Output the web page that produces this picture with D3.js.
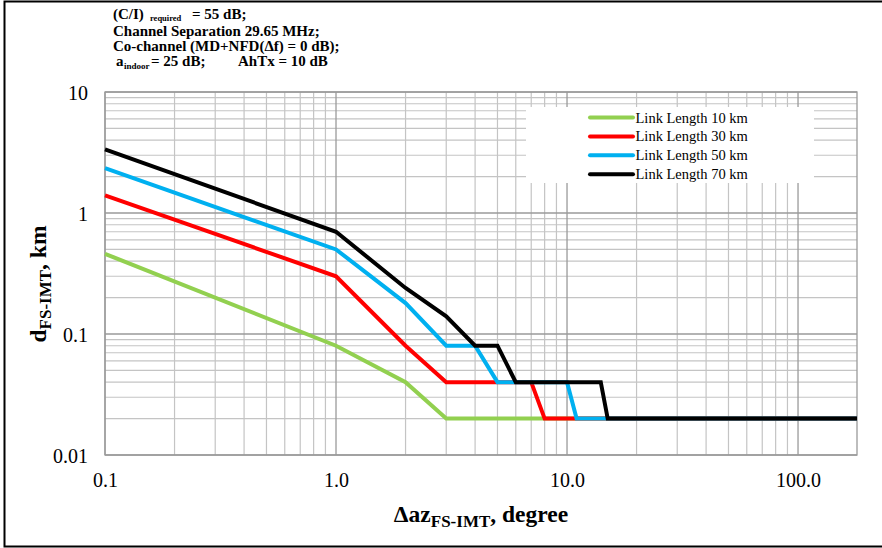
<!DOCTYPE html>
<html><head><meta charset="utf-8">
<script src="https://cdn.jsdelivr.net/npm/d3@7"></script>
<style>
body{margin:0;background:#fff;}
svg{display:block;font-family:"Liberation Serif","Times New Roman",serif;}
</style></head>
<body>
<svg id="c" width="882" height="548"></svg>
<script>
// ---- data ----
const azDeg = [0.1, 1, 2, 3, 4, 5, 6, 7, 8, 10, 11, 14, 15, 180];
const link10 = [0.46, 0.08, 0.04, 0.02, 0.02, 0.02, 0.02, 0.02, 0.02, 0.02, 0.02, 0.02, 0.02, 0.02];
const link30 = [1.40, 0.30, 0.08, 0.04, 0.04, 0.04, 0.04, 0.04, 0.02, 0.02, 0.02, 0.02, 0.02, 0.02];
const link50 = [2.35, 0.50, 0.18, 0.08, 0.08, 0.04, 0.04, 0.04, 0.04, 0.04, 0.02, 0.02, 0.02, 0.02];
const link70 = [3.35, 0.70, 0.24, 0.14, 0.08, 0.08, 0.04, 0.04, 0.04, 0.04, 0.04, 0.04, 0.02, 0.02];
const seriesNames = ["Link Length 10 km", "Link Length 30 km", "Link Length 50 km", "Link Length 70 km"];
const seriesColors = ["#92D050", "#FF0000", "#00B0F0", "#000000"];
const xTickLabels = ["0.1", "1.0", "10.0", "100.0"];
const xTickValues = [0.1, 1, 10, 100];
const yTickLabels = ["0.01", "0.1", "1", "10"];
const yTickValues = [0.01, 0.1, 1, 10];
const xDomain = [0.1, 180];
const yDomain = [0.01, 10];

const seriesData = [link10, link30, link50, link70];

const svg = d3.select("#c");
const m = {left:105, top:92, right:857, bottom:455};
const x = d3.scaleLog().domain(xDomain).range([m.left, m.right]);
const y = d3.scaleLog().domain(yDomain).range([m.bottom, m.top]);

// outer frame
svg.append("rect").attr("x",4.5).attr("y",1.5).attr("width",880).attr("height",545)
  .attr("fill","none").attr("stroke","#000").attr("stroke-width",2);

// gridlines
const minorX = [], minorY = [];
[0.1,1,10,100].forEach(d=>{for(let k=2;k<=9;k++){const v=d*k; if(v<xDomain[1]) minorX.push(v);}});
[0.01,0.1,1].forEach(d=>{for(let k=2;k<=9;k++) minorY.push(d*k);});
const g = svg.append("g");
g.selectAll(".mx").data(minorX).join("line")
  .attr("x1",d=>x(d)).attr("x2",d=>x(d)).attr("y1",m.top).attr("y2",m.bottom)
  .attr("stroke","#c4c4c4").attr("stroke-width",1.2);
g.selectAll(".my").data(minorY).join("line")
  .attr("y1",d=>y(d)).attr("y2",d=>y(d)).attr("x1",m.left).attr("x2",m.right)
  .attr("stroke","#c4c4c4").attr("stroke-width",1.2);
g.selectAll(".Mx").data(xTickValues).join("line")
  .attr("x1",d=>x(d)).attr("x2",d=>x(d)).attr("y1",m.top).attr("y2",m.bottom)
  .attr("stroke","#9a9a9a").attr("stroke-width",1.3);
g.selectAll(".My").data(yTickValues).join("line")
  .attr("y1",d=>y(d)).attr("y2",d=>y(d)).attr("x1",m.left).attr("x2",m.right)
  .attr("stroke","#9a9a9a").attr("stroke-width",1.3);
// plot border
svg.append("rect").attr("x",m.left).attr("y",m.top).attr("width",m.right-m.left).attr("height",m.bottom-m.top)
  .attr("fill","none").attr("stroke","#9a9a9a").attr("stroke-width",1.3);

// tick labels via axes
const xAxis = d3.axisBottom(x).tickValues(xTickValues).tickFormat((d,i)=>xTickLabels[i]).tickSize(0).tickPadding(0);
const xa = svg.append("g").attr("transform",`translate(0,${m.bottom})`).call(xAxis);
xa.select(".domain").remove();
xa.selectAll("text").attr("font-family","Liberation Serif").attr("font-size",20).attr("fill","#000")
  .attr("dy",null).attr("y",32);
const yAxis = d3.axisLeft(y).tickValues(yTickValues).tickFormat((d,i)=>yTickLabels[i]).tickSize(0).tickPadding(17);
const ya = svg.append("g").attr("transform",`translate(${m.left},0)`).call(yAxis);
ya.select(".domain").remove();
ya.selectAll("text").attr("font-family","Liberation Serif").attr("font-size",20).attr("fill","#000")
  .attr("dy","0.35em");

// lines
const line = d3.line().x((d,i)=>x(azDeg[i])).y(d=>y(d));
svg.append("g").selectAll("path").data(seriesData).join("path")
  .attr("d",d=>line(d)).attr("fill","none")
  .attr("stroke",(d,i)=>seriesColors[i]).attr("stroke-width",4)
  .attr("stroke-linejoin","miter");

// legend
const lg = svg.append("g");
lg.append("rect").attr("x",526).attr("y",107).attr("width",288).attr("height",76).attr("fill","#fff");
seriesNames.forEach((n,i)=>{
  const yy = 117.5 + i*18.9;
  lg.append("line").attr("x1",590).attr("x2",633).attr("y1",yy).attr("y2",yy)
    .attr("stroke",seriesColors[i]).attr("stroke-width",4).attr("stroke-linecap","round");
  lg.append("text").attr("x",635.5).attr("y",yy+5).attr("font-size",14.5).text(n);
});

// annotation
const ann = svg.append("g").attr("font-weight","bold").attr("font-size",15);
ann.append("text").attr("x",113).attr("y",19).text("(C/I)");
ann.append("text").attr("x",150).attr("y",21).attr("font-size",8.5).text("required");
ann.append("text").attr("x",192).attr("y",19).text("= 55 dB;");
ann.append("text").attr("x",113).attr("y",35.5).text("Channel Separation 29.65 MHz;");
ann.append("text").attr("x",113).attr("y",51).text("Co-channel (MD+NFD(\u0394f) = 0 dB);");
ann.append("text").attr("x",116).attr("y",66).text("a");
ann.append("text").attr("x",124).attr("y",69).attr("font-size",9).text("indoor");
ann.append("text").attr("x",151).attr("y",66).text("= 25 dB;");
ann.append("text").attr("x",238).attr("y",66).text("AhTx = 10 dB");

// axis titles
const xt = svg.append("text").attr("x",481).attr("y",522).attr("text-anchor","middle")
  .attr("font-weight","bold").attr("font-size",23.5);
xt.append("tspan").text("\u0394az");
xt.append("tspan").attr("font-size",17).attr("dy",5).text("FS-IMT");
xt.append("tspan").attr("dy",-5).text(", degree");

const yt = svg.append("text").attr("transform","translate(46,284) rotate(-90)").attr("text-anchor","middle")
  .attr("font-weight","bold").attr("font-size",23.5);
yt.append("tspan").text("d");
yt.append("tspan").attr("font-size",17).attr("dy",5).text("FS-IMT");
yt.append("tspan").attr("dy",-5).text(", km");
</script>
</body></html>
